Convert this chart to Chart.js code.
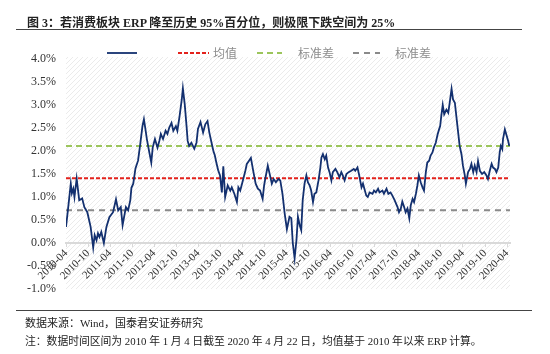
<!DOCTYPE html>
<html>
<head>
<meta charset="utf-8">
<script src="https://cdn.jsdelivr.net/npm/chart.js@4/dist/chart.umd.min.js"></script>
<style>
    body { margin: 0; background: #fff; }
    #wrap { position: relative; width: 550px; height: 354px; background: #fff; overflow: hidden; }
    #chart { position: absolute; left: 0; top: 0; }
    .txt { position: absolute; white-space: nowrap; font-family: "Liberation Serif", "Noto Sans CJK SC", serif; color: #222; }
    .rule { position: absolute; height: 0; border-top: 1.5px solid #444; }
</style>
</head>
<body>
<div id="wrap">
    <canvas id="chart" width="550" height="354"></canvas>
    <div class="txt" style="left:27px; top:13px; font-size:12px; font-weight:bold;">图 3：若消费板块 ERP 降至历史 95%百分位，则极限下跌空间为 25%</div>
    <div class="rule" style="left:16px; top:29px; width:506px;"></div>
    <div class="rule" style="left:16px; top:310px; width:516px;"></div>
    <div class="txt" style="left:25px; top:314px; font-size:11px;">数据来源：Wind，国泰君安证券研究</div>
    <div class="txt" style="left:25px; top:332px; font-size:10.8px;">注：数据时间区间为 2010 年 1 月 4 日截至 2020 年 4 月 22 日，均值基于 2010 年以来 ERP 计算。</div>
</div>
<script>
// x 轴刻度（每半年一个）
const tickLabels = ['2010-04', '2010-10', '2011-04', '2011-10', '2012-04', '2012-10', '2013-04', '2013-10',
    '2014-04', '2014-10', '2015-04', '2015-10', '2016-04', '2016-10', '2017-04', '2017-10',
    '2018-04', '2018-10', '2019-04', '2019-10', '2020-04'];

// 时间位置（自首个刻度起的月数）
const months = [
    0, 0.5, 1.3, 1.6, 2.0, 2.3, 2.9, 3.6, 4.4, 5.0, 5.8, 6.7, 7.4, 7.8, 8.3, 8.7, 9.1, 9.6, 10.3, 11.0,
    11.8, 12.8, 13.6, 14.2, 14.9, 15.4, 16.3, 16.9, 17.5, 17.8, 18.3, 18.9, 19.6, 20.2, 20.8, 21.2, 21.6, 22.0, 22.6, 23.2,
    23.6, 24.2, 24.9, 25.4, 25.8, 26.4, 27.1, 27.6, 28.1, 28.7, 29.2, 29.9, 30.3, 30.9, 31.5, 31.8, 32.3, 32.8, 33.1, 33.5,
    34.1, 34.9, 35.5, 35.9, 36.6, 37.3, 37.9, 38.5, 39.0, 39.6, 40.1, 40.5, 40.9, 41.4, 41.9, 42.4, 42.8, 43.3, 44.0, 44.7,
    45.1, 45.8, 46.5, 46.9, 47.4, 48.0, 48.8, 49.2, 49.8, 50.3, 51.0, 51.6, 52.2, 52.8, 53.5, 53.9, 54.2, 54.9, 55.3, 56.0,
    56.5, 57.1, 57.8, 58.3, 58.9, 59.5, 60.1, 60.8, 61.3, 61.7, 62.2, 62.7, 63.1, 63.6, 64.0, 64.4, 64.9, 65.4, 65.8, 66.3,
    66.7, 67.2, 67.6, 68.1, 68.7, 69.2, 69.5, 69.9, 70.4, 70.8, 71.3, 71.7, 72.2, 72.6, 73.3, 73.8, 74.4, 74.9, 75.3, 75.8,
    76.3, 76.9, 77.6, 78.3, 78.7, 79.3, 79.7, 80.4, 80.8, 81.7, 82.1, 82.6, 83.4, 83.8, 84.3, 84.9, 85.3, 86.1, 86.5, 87.2,
    87.7, 88.3, 88.8, 89.4, 90.2, 90.6, 91.1, 91.5, 92.0, 92.4, 92.9, 93.4, 93.8, 94.3, 94.7, 95.2, 95.6, 96.0, 96.5, 97.0,
    97.4, 97.9, 98.3, 98.8, 99.2, 99.7, 100.1, 100.6, 101.1, 101.5, 101.8, 102.1, 102.5, 102.9, 103.5, 104.0, 104.4, 104.9, 105.3, 105.8,
    106.2, 106.7, 107.1, 107.6, 108.0, 108.5, 108.8, 109.4, 109.9, 110.3, 110.8, 111.2, 111.7, 112.1, 112.6, 113.2, 113.8, 114.4, 114.8, 115.3,
    115.8, 116.2, 116.7, 117.1, 117.6, 118.0, 118.3, 118.7, 118.9, 119.4, 119.9, 120.3, 120.6
];

// 消费板块 ERP（%）
const erp = [
    0.35, 0.70, 1.29, 1.08, 1.18, 1.00, 1.40, 0.93, 0.97, 0.78, 0.67, 0.35, -0.10, 0.17, 0.06, 0.21, 0.13, 0.24, 0.00, 0.35,
    0.56, 0.67, 0.95, 0.71, 0.78, 0.39, 0.78, 0.71, 0.93, 1.20, 1.29, 1.62, 1.79, 2.15, 2.54, 2.69, 2.48, 2.26, 2.00, 1.75,
    2.08, 2.26, 2.07, 2.22, 2.37, 2.26, 2.44, 2.37, 2.51, 2.61, 2.44, 2.54, 2.44, 2.76, 3.12, 3.36, 3.02, 2.54, 2.22, 2.11,
    2.18, 2.05, 2.18, 2.48, 2.63, 2.40, 2.58, 2.65, 2.40, 2.18, 2.00, 1.90, 1.75, 1.58, 1.47, 1.10, 1.67, 1.00, 1.25, 1.14,
    1.21, 1.07, 0.89, 1.21, 1.14, 1.32, 1.57, 1.72, 1.79, 1.85, 1.54, 1.29, 1.18, 1.14, 0.96, 1.25, 1.39, 1.68, 1.54, 1.29,
    1.39, 1.32, 1.39, 1.36, 1.07, 0.64, 0.30, 0.57, 0.54, 0.00, -0.33, 0.06, 0.57, 0.38, 0.28, 0.93, 1.29, 1.47, 1.32, 1.25,
    1.14, 0.89, 1.07, 1.10, 1.36, 1.64, 1.86, 1.93, 1.82, 1.90, 1.64, 1.54, 1.36, 1.54, 1.61, 1.54, 1.43, 1.54, 1.47, 1.36,
    1.50, 1.54, 1.57, 1.61, 1.57, 1.64, 1.50, 1.21, 1.29, 1.03, 1.00, 1.10, 1.07, 1.14, 1.10, 1.18, 1.10, 1.14, 1.07, 1.18,
    1.07, 1.10, 1.03, 0.93, 0.78, 0.67, 0.75, 0.90, 0.78, 0.67, 0.75, 0.54, 0.82, 0.96, 0.89, 1.07, 1.25, 1.47, 1.32, 1.21,
    1.14, 1.54, 1.75, 1.79, 1.90, 1.97, 2.08, 2.18, 2.36, 2.47, 2.54, 2.76, 3.00, 2.80, 2.90, 2.83, 3.05, 3.35, 3.12, 3.05,
    2.76, 2.40, 2.11, 1.93, 1.68, 1.47, 1.29, 1.54, 1.61, 1.72, 1.54, 1.68, 1.54, 1.78, 1.57, 1.50, 1.54, 1.47, 1.39, 1.57,
    1.72, 1.64, 1.61, 1.54, 1.64, 1.97, 2.11, 2.04, 2.26, 2.47, 2.33, 2.22, 2.11
];

const erpMean = 1.41;   // 均值
const erpStd = 0.70;    // 标准差
const xMax = 120.8;

const legendNames = ['', '均值', '标准差', '标准差'];

// 斜线底纹
const hatchPlugin = {
    id: 'hatch',
    beforeDraw(chart) {
        const { ctx, chartArea: a } = chart;
        const p = document.createElement('canvas');
        p.width = 5; p.height = 5;
        const pc = p.getContext('2d');
        pc.strokeStyle = '#ebebeb';
        pc.lineWidth = 1;
        pc.beginPath();
        pc.moveTo(0, 5); pc.lineTo(5, 0);
        pc.stroke();
        ctx.save();
        ctx.fillStyle = ctx.createPattern(p, 'repeat');
        ctx.fillRect(a.left, a.top - 2, a.right - a.left, a.bottom - a.top + 2);
        ctx.restore();
    }
};

// 图例（位置按原图摆放）
const legendPlugin = {
    id: 'manualLegend',
    afterDraw(chart) {
        const ctx = chart.ctx;
        const spots = [[107, 137], [178, 209, 213], [257, 282, 298], [353, 380, 395]];
        const y = 53;
        ctx.save();
        chart.data.datasets.forEach((ds, i) => {
            const s = spots[i];
            ctx.strokeStyle = ds.borderColor;
            ctx.lineWidth = ds.borderWidth;
            ctx.setLineDash(ds.borderDash || []);
            ctx.beginPath();
            ctx.moveTo(s[0], y); ctx.lineTo(s[1], y);
            ctx.stroke();
            if (legendNames[i]) {
                ctx.fillStyle = '#8c8c8c';
                ctx.font = '12px "Noto Sans CJK SC"';
                ctx.textBaseline = 'middle';
                ctx.fillText(legendNames[i], s[2], y);
            }
        });
        ctx.restore();
    }
};

const hLine = v => [{ x: 0, y: v }, { x: xMax, y: v }];

new Chart(document.getElementById('chart').getContext('2d'), {
    type: 'line',
    data: {
        datasets: [
            { data: months.map((m, i) => ({ x: m, y: erp[i] })), borderColor: '#13306f', borderWidth: 1.8, pointRadius: 0, tension: 0 },
            { data: hLine(erpMean), borderColor: '#e3221c', borderWidth: 2, borderDash: [4, 2], pointRadius: 0 },
            { data: hLine(erpMean + erpStd), borderColor: '#9cc55c', borderWidth: 2, borderDash: [6, 4], pointRadius: 0 },
            { data: hLine(erpMean - erpStd), borderColor: '#8a8a8a', borderWidth: 2, borderDash: [6, 5], pointRadius: 0 }
        ]
    },
    options: {
        responsive: false,
        animation: false,
        devicePixelRatio: 1,
        layout: { padding: { left: 0, right: 40, top: 59, bottom: 65 } },
        plugins: { legend: { display: false }, tooltip: { enabled: false } },
        scales: {
            x: {
                type: 'linear',
                position: { y: 0 },
                min: 0,
                max: xMax,
                afterBuildTicks: scale => { scale.ticks = tickLabels.map((_, i) => ({ value: i * 6 })); },
                ticks: {
                    autoSkip: false, maxRotation: 45, minRotation: 45, padding: 1,
                    color: '#333', font: { family: 'Liberation Serif', size: 11 },
                    callback: (v, i) => tickLabels[i]
                },
                grid: { drawOnChartArea: false, drawTicks: true, tickLength: 3, color: '#d9d9d9', lineWidth: 1 },
                border: { display: true, color: '#d9d9d9', width: 2 }
            },
            y: {
                min: -1,
                max: 4,
                afterFit: scale => { scale.width = 66; },
                ticks: {
                    stepSize: 0.5, padding: 10,
                    color: '#333', font: { family: 'Liberation Serif', size: 12 },
                    callback: v => v.toFixed(1) + '%'
                },
                grid: { display: false, drawTicks: false },
                border: { display: false }
            }
        }
    },
    plugins: [hatchPlugin, legendPlugin]
});
</script>
</body>
</html>
